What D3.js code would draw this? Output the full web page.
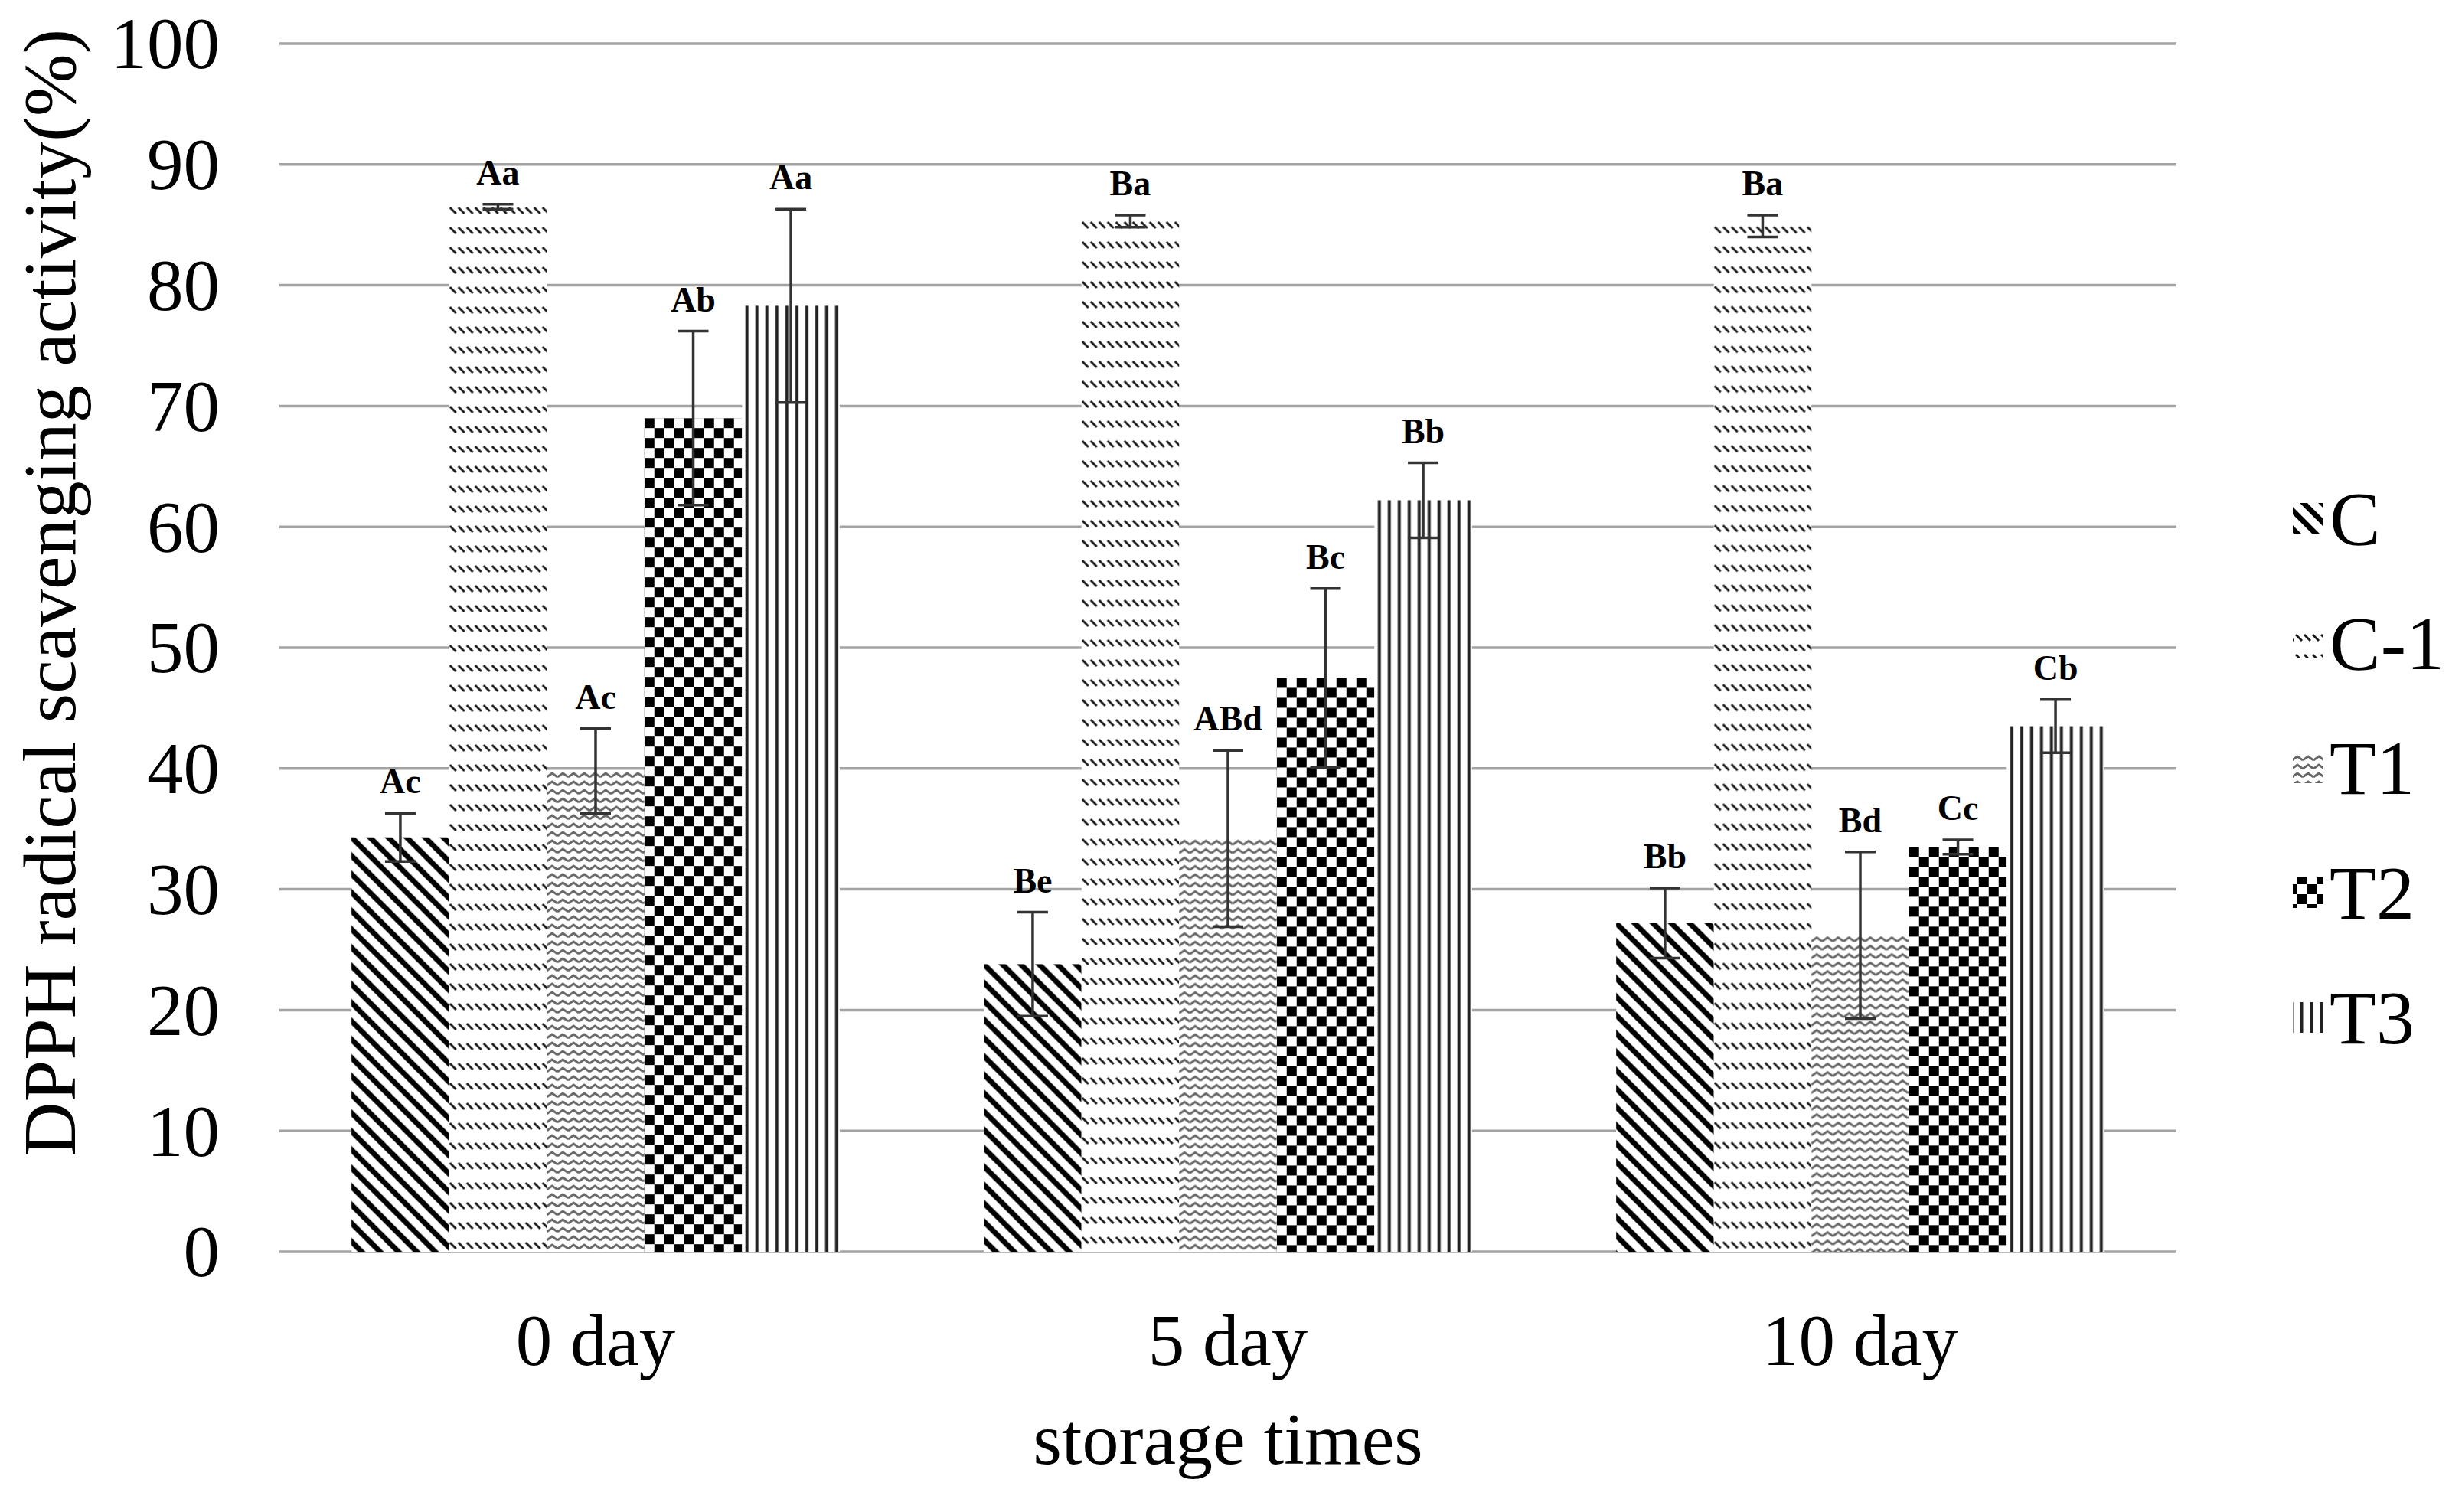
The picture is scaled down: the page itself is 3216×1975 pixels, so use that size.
<!DOCTYPE html>
<html>
<head>
<meta charset="utf-8">
<script src="https://cdn.jsdelivr.net/npm/d3@7"></script>
<style>
  body { margin: 0; background: #fff; }
  text { font-family: "Liberation Serif", "Times New Roman", serif; fill: #000; }
</style>
</head>
<body>
<script>
const days = ["0 day", "5 day", "10 day"];
const series = ["C", "C-1", "T1", "T2", "T3"];

// mean DPPH scavenging (%) per series, one value per day
const valC  = [34.3, 23.8, 27.2];
const valC1 = [86.5, 85.3, 84.9];
const valT1 = [39.8, 34.2, 26.2];
const valT2 = [69.0, 47.5, 33.5];
const valT3 = [78.3, 62.2, 43.5];

// error bar half-lengths
const errC  = [2.0, 4.3, 2.9];
const errC1 = [0.2, 0.5, 0.9];
const errT1 = [3.5, 7.3, 6.9];
const errT2 = [7.2, 7.4, 0.6];
const errT3 = [8.0, 3.1, 2.2];

// significance letters
const letC  = ["Ac", "Be", "Bb"];
const letC1 = ["Aa", "Ba", "Ba"];
const letT1 = ["Ac", "ABd", "Bd"];
const letT2 = ["Ab", "Bc", "Cc"];
const letT3 = ["Aa", "Bb", "Cb"];

const yTicks = [0, 10, 20, 30, 40, 50, 60, 70, 80, 90, 100];

const values = [valC, valC1, valT1, valT2, valT3];
const errors = [errC, errC1, errT1, errT2, errT3];
const letters = [letC, letC1, letT1, letT2, letT3];

const rows = [];
days.forEach((day, di) => {
  series.forEach((s, si) => {
    rows.push({ day, series: s, value: values[si][di], err: errors[si][di], label: letters[si][di] });
  });
});

const width = 3216;
const height = 1975;
const plotLeft = 365, plotRight = 2843, plotTop = 57, plotBottom = 1635;

const svg = d3.select("body").append("svg")
  .attr("width", width)
  .attr("height", height)
  .attr("viewBox", [0, 0, width, height]);

const y = d3.scaleLinear().domain([0, 100]).range([plotBottom, plotTop]);
const x0 = d3.scaleBand().domain(days).range([plotLeft, plotRight]).paddingInner(0.228).paddingOuter(0.114);
const x1 = d3.scaleBand().domain(series).range([0, x0.bandwidth()]);

// fill patterns, roughly like the Excel ones
const tiles = {
  "C": { w: 24, h: 24, draw: p => p.append("path")
    .attr("d", "M-6,-6L30,30M-6,18L6,30M18,-6L30,6")
    .attr("stroke", "#000").attr("stroke-width", 7) },
  "C-1": { w: 11, h: 26, draw: p => p.append("path")
    .attr("d", "M1,1L9,9")
    .attr("stroke", "#1a1a1a").attr("stroke-width", 2.8) },
  "T1": { w: 14, h: 11, draw: p => p.append("path")
    .attr("d", "M0,8L7,3L14,8")
    .attr("fill", "none").attr("stroke", "#666").attr("stroke-width", 2.8) },
  "T2": { w: 26, h: 26, draw: p => {
    p.append("rect").attr("width", 13).attr("height", 13).attr("fill", "#000");
    p.append("rect").attr("x", 13).attr("y", 13).attr("width", 13).attr("height", 13).attr("fill", "#000");
  } },
  "T3": { w: 13, h: 13, draw: p => p.append("path")
    .attr("d", "M6.5,0V13")
    .attr("stroke", "#222").attr("stroke-width", 4) }
};

const defs = svg.append("defs");
// one pattern per shape, anchored at the shape's top-left corner
function patternAt(id, s, ox, oy) {
  const t = tiles[s];
  const p = defs.append("pattern")
    .attr("id", id)
    .attr("patternUnits", "userSpaceOnUse")
    .attr("x", ox)
    .attr("y", oy)
    .attr("width", t.w)
    .attr("height", t.h);
  p.append("rect").attr("width", t.w).attr("height", t.h).attr("fill", "#fff");
  t.draw(p);
  return `url(#${id})`;
}

// gridlines
svg.append("g")
  .selectAll("line")
  .data(yTicks)
  .join("line")
  .attr("x1", plotLeft)
  .attr("x2", plotRight)
  .attr("y1", d => y(d))
  .attr("y2", d => y(d))
  .attr("stroke", "#a3a3a3")
  .attr("stroke-width", 3.5);

// y tick labels
svg.append("g")
  .selectAll("text")
  .data(yTicks)
  .join("text")
  .attr("x", 287)
  .attr("y", d => y(d))
  .attr("dy", "0.34em")
  .attr("text-anchor", "end")
  .attr("font-size", 95)
  .text(d => d);

// bars
const bx = d => x0(d.day) + x1(d.series);
svg.append("g")
  .selectAll("rect")
  .data(rows)
  .join("rect")
  .attr("x", bx)
  .attr("y", d => y(d.value))
  .attr("width", x1.bandwidth())
  .attr("height", d => y(0) - y(d.value))
  .attr("fill", (d, i) => patternAt(`bar${i}`, d.series, bx(d), y(d.value)));

// error bars
const eb = svg.append("g")
  .attr("stroke", "#333")
  .attr("stroke-width", 3.5);
const cx = d => bx(d) + x1.bandwidth() / 2;
eb.selectAll(".stem")
  .data(rows)
  .join("line")
  .attr("class", "stem")
  .attr("x1", cx).attr("x2", cx)
  .attr("y1", d => y(d.value + d.err))
  .attr("y2", d => y(d.value - d.err));
eb.selectAll(".capTop")
  .data(rows)
  .join("line")
  .attr("class", "capTop")
  .attr("x1", d => cx(d) - 20).attr("x2", d => cx(d) + 20)
  .attr("y1", d => y(d.value + d.err))
  .attr("y2", d => y(d.value + d.err));
eb.selectAll(".capBottom")
  .data(rows)
  .join("line")
  .attr("class", "capBottom")
  .attr("x1", d => cx(d) - 20).attr("x2", d => cx(d) + 20)
  .attr("y1", d => y(d.value - d.err))
  .attr("y2", d => y(d.value - d.err));

// significance letters
svg.append("g")
  .selectAll("text")
  .data(rows)
  .join("text")
  .attr("x", cx)
  .attr("y", d => y(d.value + d.err) - 26)
  .attr("text-anchor", "middle")
  .attr("font-size", 46)
  .attr("font-weight", "bold")
  .text(d => d.label);

// category labels
svg.append("g")
  .selectAll("text")
  .data(days)
  .join("text")
  .attr("x", d => x0(d) + x0.bandwidth() / 2)
  .attr("y", 1783)
  .attr("text-anchor", "middle")
  .attr("font-size", 95)
  .text(d => d);

svg.append("text")
  .attr("x", (plotLeft + plotRight) / 2)
  .attr("y", 1912)
  .attr("text-anchor", "middle")
  .attr("font-size", 96)
  .text("storage times");

svg.append("text")
  .attr("transform", "translate(98,774) rotate(-90)")
  .attr("text-anchor", "middle")
  .attr("font-size", 98)
  .text("DPPH radical scavenging activity(%)");

// legend
const legendX = 2995, legendY = 677, legendStep = 163;
const legend = svg.append("g")
  .selectAll("g")
  .data(series)
  .join("g")
  .attr("transform", (d, i) => `translate(${legendX},${legendY + i * legendStep})`);
legend.append("rect")
  .attr("y", -20)
  .attr("width", 40)
  .attr("height", 40)
  .attr("fill", (d, i) => patternAt(`leg${i}`, d, legendX, legendY + i * legendStep - 20));
legend.append("text")
  .attr("x", 48)
  .attr("dy", "0.34em")
  .attr("font-size", 100)
  .text(d => d);
</script>
</body>
</html>
